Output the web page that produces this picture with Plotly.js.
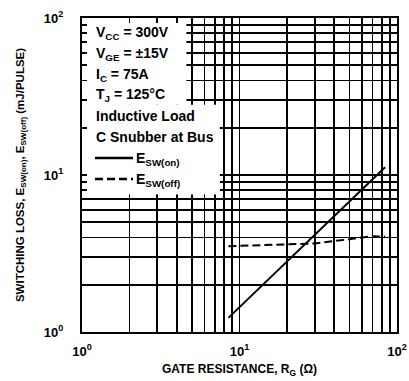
<!DOCTYPE html>
<html>
<head>
<meta charset="utf-8">
<script src="https://cdn.plot.ly/plotly-3.0.1.min.js"></script>
<style>html,body{margin:0;padding:0;background:#fff;}#chart{width:409px;height:381px;}</style>
</head>
<body>
<div id="chart"></div>
<script>
// Gate resistance (ohm) and switching energy (mJ/pulse)
var rgOn = [8.5, 20, 50, 84];
var eswOn = [1.23, 2.8, 6.8, 11.2];
var rgOff = [8.5, 20, 30, 50, 70, 84];
var eswOff = [3.52, 3.6, 3.66, 3.9, 4.08, 4.05];

var seriesNames = ['E<sub>SW(on)</sub>', 'E<sub>SW(off)</sub>'];

var gridVals = [1,2,3,4,5,6,7,8,9,10,20,30,40,50,60,70,80,90,100];
var decadeText = {1:'10<sup>0</sup>', 10:'10<sup>1</sup>', 100:'10<sup>2</sup>'};
var tickText = gridVals.map(function(v){ return decadeText[v] || ''; });

var conditions = ['V<sub>CC</sub> = 300V', 'V<sub>GE</sub> = \u00B115V', 'I<sub>C</sub> = 75A',
                  'T<sub>J</sub> = 125\u00B0C', 'Inductive Load', 'C Snubber at Bus'];

var FONT = 'Liberation Sans, Arial, sans-serif';
var W = 409, H = 381, L = 82, R = 12, T = 18, B = 49;
var PW = W - L - R, PH = H - T - B;
function px2fx(px){ return (px - L) / PW; }
function py2fy(py){ return (H - B - py) / PH; }

var dashes = ['solid', '8px,4px'];
var traces = [
  {x: rgOn, y: eswOn, type: 'scatter', mode: 'lines', name: seriesNames[0], showlegend: false,
   line: {color: '#000', width: 2, dash: dashes[0]}},
  {x: rgOff, y: eswOff, type: 'scatter', mode: 'lines', name: seriesNames[1], showlegend: false,
   line: {color: '#000', width: 2, dash: dashes[1]}}
];

var axisCommon = {
  type: 'log', tickmode: 'array', tickvals: gridVals, ticktext: tickText,
  showgrid: true, gridcolor: '#000', gridwidth: 1.7,
  showline: true, linecolor: '#000', linewidth: 2, mirror: 'ticks',
  ticks: 'inside', ticklen: 5, tickwidth: 1.7, tickcolor: '#000',
  zeroline: false, tickfont: {family: FONT, size: 13, color: '#000', weight: 'bold'}
};

var xaxis = Object.assign({}, axisCommon, {
  range: [0, 2], ticklabelstandoff: 6,
  title: {text: 'GATE RESISTANCE, R<sub>G</sub> (\u03A9)', font: {family: FONT, size: 12, color: '#000', weight: 'bold'}, standoff: 7}
});
var yaxis = Object.assign({}, axisCommon, {
  range: [0, 2], ticklabelstandoff: 14,
  title: {text: 'SWITCHING LOSS, E<sub>SW(on)</sub>, E<sub>SW(off)</sub> (mJ/PULSE)', font: {family: FONT, size: 11.5, color: '#000', weight: 'bold'}, standoff: 17}
});

var annotations = conditions.map(function(t, i){
  return {xref: 'paper', yref: 'paper', x: px2fx(94), y: py2fy(33 + i * 20.8),
          xanchor: 'left', yanchor: 'middle', showarrow: false, text: t,
          font: {family: FONT, size: 14, color: '#000', weight: 'bold'}};
});

var shapes = [
  {type: 'rect', xref: 'x', yref: 'y', x0: 1, x1: 4.6, y0: 28, y1: 100, layer: 'between',
   fillcolor: '#fff', line: {width: 0}},
  {type: 'rect', xref: 'x', yref: 'y', x0: 1, x1: 7.5, y0: 7.5, y1: 28, layer: 'between',
   fillcolor: '#fff', line: {width: 0}}
];

// legend (line samples + labels)
seriesNames.forEach(function(n, i){
  var py = 158 + i * 21;
  shapes.push({type: 'line', xref: 'paper', yref: 'paper', x0: px2fx(95), x1: px2fx(133),
               y0: py2fy(py), y1: py2fy(py), layer: 'above',
               line: {color: '#000', width: 2.5, dash: dashes[i]}});
  annotations.push({xref: 'paper', yref: 'paper', x: px2fx(134), y: py2fy(py + 1),
                    xanchor: 'left', yanchor: 'middle', showarrow: false, text: n,
                    font: {family: FONT, size: 14, color: '#000', weight: 'bold'}});
});

var layout = {
  width: W, height: H,
  margin: {l: L, r: R, t: T, b: B},
  paper_bgcolor: '#fff', plot_bgcolor: '#fff',
  showlegend: false,
  xaxis: xaxis, yaxis: yaxis,
  annotations: annotations, shapes: shapes
};

Plotly.newPlot('chart', traces, layout, {displayModeBar: false, staticPlot: true});
</script>
</body>
</html>
